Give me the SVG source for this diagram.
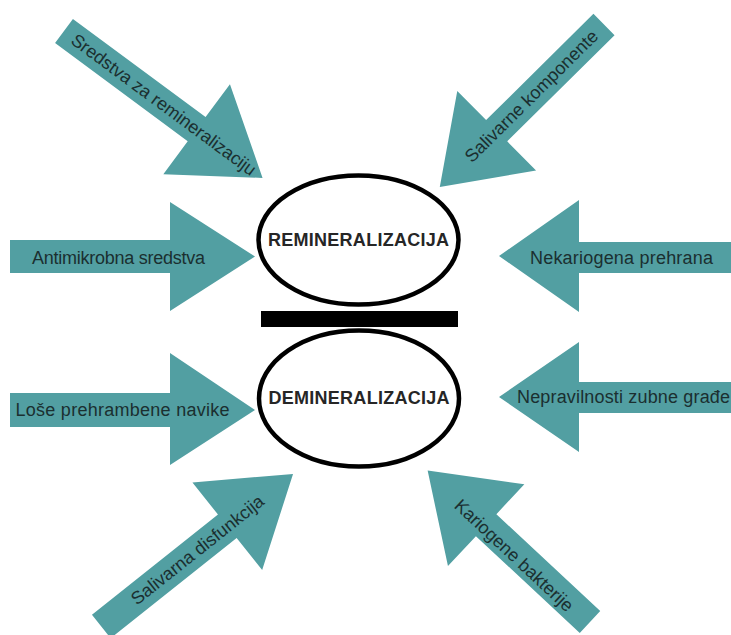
<svg xmlns="http://www.w3.org/2000/svg" width="731" height="635" viewBox="0 0 731 635">
<style>
.arrow{fill:#529fa2}
.lbl{font-family:"Liberation Sans",Arial,sans-serif;font-size:18px;fill:#1b2f30}
.mid{text-anchor:middle}
.oval{fill:#fff;stroke:#000;stroke-width:4.5}
.big{font-family:"Liberation Sans",Arial,sans-serif;font-size:18px;font-weight:bold;fill:#262626;text-anchor:middle}
</style>
<rect width="731" height="635" fill="#fff"/>
<g id="connectors">
  <g id="arrow-sredstva">
    <path class="arrow" transform="translate(64,31) rotate(36.5)" d="M0,-15 H165 V-56 L247,0 L165,56 V15 H0 Z"/>
    <text class="lbl mid" transform="translate(163.7,104.8) rotate(36.5)" y="6">Sredstva za remineralizaciju</text>
  </g>
  <g id="arrow-salivarne">
    <path class="arrow" transform="translate(604,24.5) rotate(135.3)" d="M0,-15 H151 V-56 L231,0 L151,56 V15 H0 Z"/>
    <text class="lbl mid" transform="translate(531.5,96.2) rotate(-44.7)" y="6">Salivarne komponente</text>
  </g>
  <g id="arrow-antimikrobna">
    <path class="arrow" d="M10,240 H170 V202 L255,256.5 L170,311 V273 H10 Z"/>
    <text class="lbl mid" x="118.5" y="264" textLength="173">Antimikrobna sredstva</text>
  </g>
  <g id="arrow-nekariogena">
    <path class="arrow" d="M731,242 H579 V200 L499,256 L579,312 V273 H731 Z"/>
    <text class="lbl mid" x="621.5" y="264" textLength="183">Nekariogena prehrana</text>
  </g>
  <g id="arrow-lose">
    <path class="arrow" d="M10,393 H170 V353 L255,410 L170,465 V427 H10 Z"/>
    <text class="lbl mid" x="122.5" y="416" textLength="214">Loše prehrambene navike</text>
  </g>
  <g id="arrow-nepravilnosti">
    <path class="arrow" d="M731,382 H579 V342 L499,397 L579,452 V413 H731 Z"/>
    <text class="lbl" x="517" y="403" textLength="213">Nepravilnosti zubne građe</text>
  </g>
  <g id="arrow-salivarna">
    <path class="arrow" transform="translate(101.3,626.5) rotate(-38.5)" d="M0,-15 H161 V-56 L245,0 L161,56 V15 H0 Z"/>
    <text class="lbl mid" transform="translate(197.5,550) rotate(-38.5)" y="6">Salivarna disfunkcija</text>
  </g>
  <g id="arrow-kariogene">
    <path class="arrow" transform="translate(590,622) rotate(-137)" d="M0,-15 H142 V-56 L222,0 L142,56 V15 H0 Z"/>
    <text class="lbl mid" transform="translate(514,555.5) rotate(43)" y="6">Kariogene bakterije</text>
  </g>
</g>
<g id="node-remineralizacija">
  <ellipse class="oval" cx="358.5" cy="240" rx="100" ry="64.5"/>
  <text class="big" x="358.5" y="246" textLength="181">REMINERALIZACIJA</text>
</g>
<g id="node-bar">
  <rect x="261" y="311" width="197" height="16" fill="#000"/>
</g>
<g id="node-demineralizacija">
  <ellipse class="oval" cx="359" cy="398.5" rx="100" ry="68"/>
  <text class="big" x="359" y="404" textLength="181">DEMINERALIZACIJA</text>
</g>
</svg>
